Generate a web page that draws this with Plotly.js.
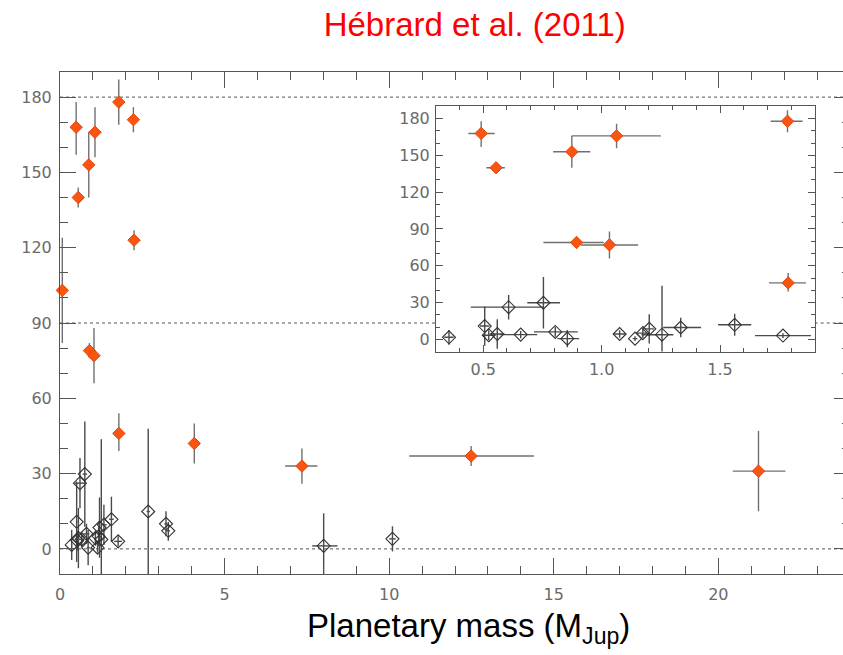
<!DOCTYPE html>
<html>
<head>
<meta charset="utf-8">
<script src="https://cdn.plot.ly/plotly-3.0.1.min.js"></script>
<style>
html,body{margin:0;padding:0;background:#fff;overflow:hidden;width:843px;height:655px;}
#chart{width:860px;height:655px;}
</style>
</head>
<body>
<div id="chart"></div>
<script>
// ---- Data: misaligned systems (filled orange diamonds) ----
const misMass        = [0.07, 0.491, 0.554, 0.874, 1.063, 1.785, 0.894, 1.033, 1.788, 2.23, 2.25, 4.08, 7.35, 12.49, 21.22];
const misAngle       = [103, 168, 140, 153, 166, 178, 79, 77, 46, 171, 123, 42, 33, 37, 31];
const misAngleErrUp  = [21, 10, 4, 13, 10, 9, 3, 11, 8, 5, 4, 8, 7, 4, 16];
const misAngleErrLo  = [21, 11, 4, 13, 10, 9, 3, 11, 7, 5, 4, 8, 7, 4, 16];
const misMassErrUp   = [0.01, 0.057, 0.037, 0.078, 0.187, 0.064, 0.115, 0.121, 0.075, 0.08, 0.08, 0.1, 0.47, 1.91, 0.82];
const misMassErrLo   = [0.01, 0.054, 0.041, 0.079, 0.19, 0.071, 0.14, 0.12, 0.081, 0.08, 0.08, 0.1, 0.51, 1.88, 0.78];

// ---- Data: aligned systems (open diamonds) ----
const alnMass        = [0.355, 0.506, 0.523, 0.559, 0.607, 0.754, 0.658, 0.804, 0.855, 1.076, 1.141, 1.174, 1.201, 1.255, 1.334, 1.562, 1.766, 2.68, 3.22, 3.29, 8.01, 10.1];
const alnAngle       = [1.6, 10.8, 3.3, 4.3, 26.2, 29.8, 3.8, 6.0, 0.5, 4.3, 0.5, 5.0, 8.5, 3.7, 9.6, 11.8, 3.0, 14.9, 10.0, 7.2, 1.2, 4.0];
const alnAngleErrUp  = [6, 16, 4, 12, 10, 21, 3, 4, 7, 3, 2, 4, 12, 40, 8, 9, 2, 33, 5, 3.5, 13, 5];
const alnAngleErrLo  = [6, 16, 4, 12, 10, 21, 3, 4, 7, 3, 2, 4, 12, 40, 8, 9, 2, 33, 5, 4, 13, 5];
const alnMassErrUp   = [0.02, 0.02, 0.025, 0.03, 0.15, 0.07, 0.07, 0.095, 0.05, 0.025, 0.01, 0.028, 0.02, 0.048, 0.086, 0.07, 0.118, 0.05, 0.05, 0.05, 0.42, 0.1];
const alnMassErrLo   = [0.02, 0.02, 0.025, 0.03, 0.16, 0.068, 0.09, 0.09, 0.042, 0.025, 0.01, 0.028, 0.02, 0.087, 0.074, 0.07, 0.118, 0.05, 0.05, 0.05, 0.35, 0.1];

// ---- Axis ticks and texts ----
const mainXTicks = [0, 5, 10, 15, 20];
const angleTicks = [0, 30, 60, 90, 120, 150, 180];
const insetXTicks = [0.5, 1.0, 1.5];
const refLines = [0, 90, 180];
const chartTitle = 'Hébrard et al. (2011)';
const xTitle = 'Planetary mass (M<sub>Jup</sub>)';

// ---- Layout constants ----
const insetDomX = [0.4759, 0.9553];
const insetDomY = [0.4432, 0.9313];
const axisColor = '#555';
const tickFont = {family: 'DejaVu Sans, sans-serif', size: 16, color: '#6a6a6a'};
const insetTickFont = {family: 'DejaVu Sans, sans-serif', size: 16, color: '#6a6a6a'};

function errBar(up, lo, color) {
  return {type: 'data', symmetric: false, array: up, arrayminus: lo, color: color, thickness: 1.4, width: 0};
}

const orangeMarker = {symbol: 'diamond', size: 9.5, color: '#FA5412', line: {color: '#E04808', width: 1}};
const openMarker = {symbol: 'diamond-open', size: 10, color: '#333', line: {color: '#333', width: 1.1}};

const traces = [];
[['x', 'y', false], ['x2', 'y2', true]].forEach(([xa, ya, clip]) => {
  traces.push({
    type: 'scatter', mode: 'markers', x: alnMass, y: alnAngle, xaxis: xa, yaxis: ya,
    marker: openMarker, cliponaxis: true, showlegend: false, hoverinfo: 'x+y',
    error_y: errBar(alnAngleErrUp, alnAngleErrLo, '#4a4a4a'),
    error_x: errBar(alnMassErrUp, alnMassErrLo, '#4a4a4a')
  });
  traces.push({
    type: 'scatter', mode: 'markers', x: misMass, y: misAngle, xaxis: xa, yaxis: ya,
    marker: orangeMarker, cliponaxis: clip, showlegend: false, hoverinfo: 'x+y',
    error_y: errBar(misAngleErrUp, misAngleErrLo, '#707070'),
    error_x: errBar(misMassErrUp, misMassErrLo, '#707070')
  });
});

const shapes = [];
const dot = {color: axisColor, width: 1, dash: 'dot'};
refLines.forEach(v => {
  if (v === 90) {
    shapes.push({type: 'line', xref: 'paper', yref: 'y', x0: 0, x1: insetDomX[0], y0: v, y1: v, line: dot, layer: 'below'});
    shapes.push({type: 'line', xref: 'paper', yref: 'y', x0: insetDomX[1], x1: 1, y0: v, y1: v, line: dot, layer: 'below'});
  } else {
    shapes.push({type: 'line', xref: 'paper', yref: 'y', x0: 0, x1: 1, y0: v, y1: v, line: dot, layer: 'below'});
  }
  shapes.push({type: 'line', xref: 'x2 domain', yref: 'y2', x0: 0, x1: 1, y0: v, y1: v, line: dot, layer: 'below'});
});

const layout = {
  width: 860, height: 655,
  margin: {l: 60, r: 10, t: 72, b: 81},
  paper_bgcolor: '#fff', plot_bgcolor: '#fff',
  showlegend: false,
  title: {
    text: chartTitle,
    font: {family: 'Liberation Sans, Arial, sans-serif', size: 33, color: '#ff0000'},
    xref: 'container', yref: 'container', x: 0.552, xanchor: 'center', y: 0.962, yanchor: 'middle'
  },
  annotations: [{
    text: xTitle, xref: 'paper', yref: 'paper', x: 0.5177, y: -0.108,
    xanchor: 'center', yanchor: 'middle', showarrow: false,
    font: {family: 'Liberation Sans, Arial, sans-serif', size: 33, color: '#000'}
  }],
  xaxis: {
    range: [0, 24], domain: [0, 1],
    tickvals: mainXTicks, ticks: 'inside', ticklen: 16, tickcolor: axisColor, tickwidth: 1,
    minor: {dtick: 1, ticks: 'inside', ticklen: 8, tickcolor: axisColor, tickwidth: 1, showgrid: false},
    showline: true, linecolor: axisColor, linewidth: 1, mirror: 'ticks',
    showgrid: false, zeroline: false, tickfont: tickFont, ticklabelstandoff: 6
  },
  yaxis: {
    range: [-10, 190], domain: [0, 1],
    tickvals: angleTicks, ticks: 'inside', ticklen: 16, tickcolor: axisColor, tickwidth: 1,
    minor: {dtick: 10, ticks: 'inside', ticklen: 8, tickcolor: axisColor, tickwidth: 1, showgrid: false},
    showline: true, linecolor: axisColor, linewidth: 1, mirror: 'ticks',
    showgrid: false, zeroline: false, tickfont: tickFont, ticklabelstandoff: 4
  },
  xaxis2: {
    anchor: 'y2', domain: insetDomX, range: [0.3, 1.9],
    tickvals: insetXTicks, ticktext: insetXTicks.map(v => v.toFixed(1)),
    ticks: 'inside', ticklen: 7, tickcolor: axisColor, tickwidth: 1,
    minor: {dtick: 0.1, ticks: 'inside', ticklen: 4, tickcolor: axisColor, tickwidth: 1, showgrid: false},
    showline: true, linecolor: axisColor, linewidth: 1, mirror: 'ticks',
    showgrid: false, zeroline: false, tickfont: insetTickFont, ticklabelstandoff: 3
  },
  yaxis2: {
    anchor: 'x2', domain: insetDomY, range: [-10, 190],
    tickvals: angleTicks, ticks: 'inside', ticklen: 7, tickcolor: axisColor, tickwidth: 1,
    minor: {dtick: 10, ticks: 'inside', ticklen: 4, tickcolor: axisColor, tickwidth: 1, showgrid: false},
    showline: true, linecolor: axisColor, linewidth: 1, mirror: 'ticks',
    showgrid: false, zeroline: false, tickfont: insetTickFont, ticklabelstandoff: 2
  },
  shapes: shapes
};

Plotly.newPlot('chart', traces, layout, {staticPlot: true, displayModeBar: false});
</script>
</body>
</html>
